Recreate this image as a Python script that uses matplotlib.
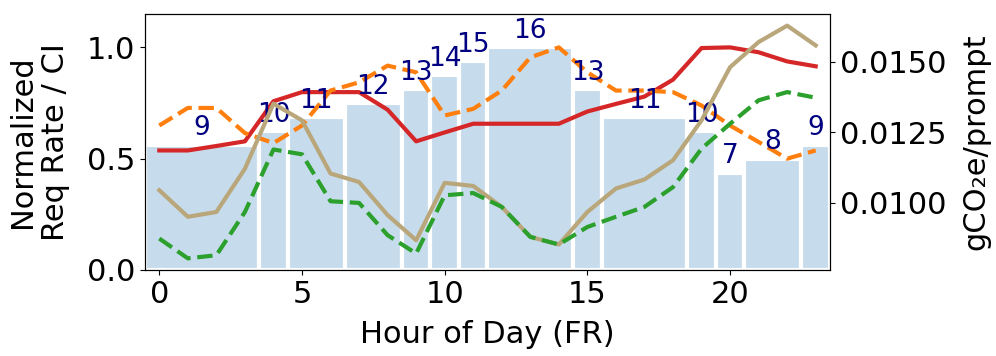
import matplotlib
matplotlib.use("Agg")
import matplotlib.pyplot as plt
from matplotlib.colors import to_rgba
import numpy as np

hours = np.arange(24)
# requests per hour (bars, normalized by the max)
req_count = [9, 9, 9, 9, 10, 11, 11, 12, 12, 13, 14, 15, 16, 16, 16, 13,
             11, 11, 11, 10, 7, 8, 8, 9]
# left axis lines
ci_norm = [0.537, 0.537, 0.557, 0.578, 0.758, 0.799, 0.799, 0.799, 0.72, 0.578,
           0.618, 0.657, 0.657, 0.657, 0.657, 0.712, 0.746, 0.779, 0.855, 0.997,
           1.0, 0.978, 0.937, 0.915]
rate_norm = [0.649, 0.728, 0.728, 0.615, 0.570, 0.649, 0.806, 0.843, 0.918, 0.888,
             0.694, 0.724, 0.806, 0.955, 1.0, 0.888, 0.806, 0.806, 0.799, 0.739,
             0.649, 0.575, 0.5, 0.537]
# right axis lines (gCO2e/prompt)
co2_a = [0.01045, 0.00951, 0.00968, 0.01121, 0.01351, 0.01292, 0.01104, 0.01074,
         0.00957, 0.00868, 0.01071, 0.01060, 0.00986, 0.00880, 0.00853, 0.00968,
         0.01051, 0.01083, 0.01151, 0.01292, 0.01480, 0.01569, 0.01627, 0.01557]
co2_b = [0.00874, 0.00804, 0.00815, 0.00968, 0.01189, 0.01172, 0.01006, 0.01000,
         0.00886, 0.00821, 0.01027, 0.01035, 0.00986, 0.00880, 0.00853, 0.00915,
         0.00951, 0.00986, 0.01056, 0.01192, 0.01280, 0.01363, 0.01392, 0.01372]

plt.rcParams["font.size"] = 22

fig, ax = plt.subplots(figsize=(9.96, 3.56), dpi=100)
fig.subplots_adjust(left=0.1456, right=0.8333, bottom=0.2416, top=0.9607)

# group consecutive hours with the same count into one bar
peak = max(req_count)
bar_color = to_rgba("tab:blue", 0.25)
start = 0
for i in range(1, 25):
    if i == 24 or req_count[i] != req_count[start]:
        n = i - start
        center = start + (n - 1) / 2
        h = req_count[start] / peak
        ax.bar(center, h, width=n, facecolor=bar_color,
               edgecolor="white", linewidth=3, zorder=1)
        ax.text(center, h + 0.015, str(req_count[start]), ha="center",
                va="bottom", color="navy", fontsize=19, zorder=5)
        start = i

ax.plot(hours, ci_norm, color="tab:red", lw=3, zorder=3)
ax.plot(hours, rate_norm, color="tab:orange", lw=3, ls="--", zorder=3)
ax.set_xlim(-0.5, 23.5)
ax.set_ylim(0, 1.15)
ax.set_yticks([0.0, 0.5, 1.0])
ax.set_xticks([0, 5, 10, 15, 20])
ax.set_xlabel("Hour of Day (FR)", labelpad=8)
ax.set_ylabel("Normalized\nReq Rate / CI", labelpad=12)

ax2 = ax.twinx()
ax2.plot(hours, co2_a, color="#b9a77b", lw=3, zorder=3)
ax2.plot(hours, co2_b, color="tab:green", lw=3, ls="--", zorder=3)
ax2.set_yticks([0.0100, 0.0125, 0.0150])
ax2.set_yticklabels(["0.0100", "0.0125", "0.0150"])
ax2.set_ylabel("gCO\u2082e/prompt", labelpad=11)

fig.savefig("out.png", dpi=100)
